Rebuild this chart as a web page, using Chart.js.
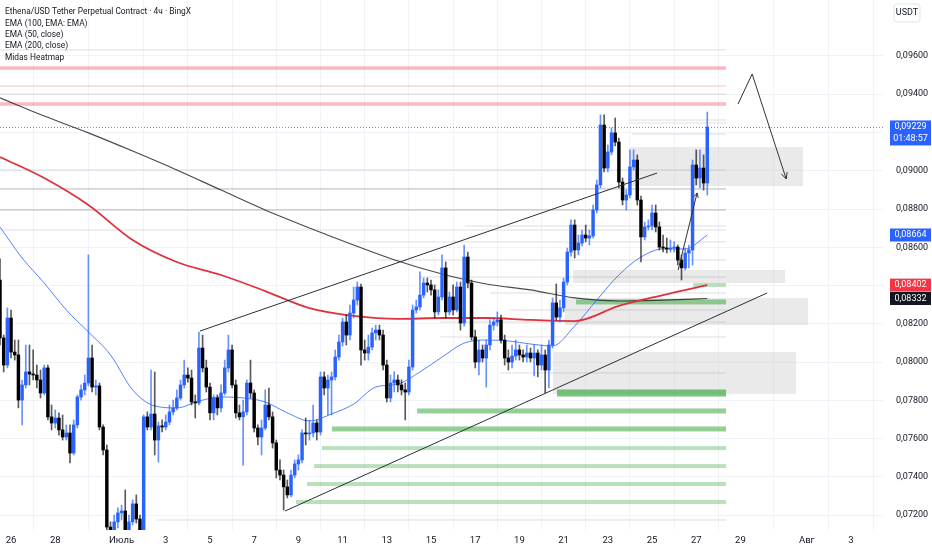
<!DOCTYPE html>
<html lang="ru">
<head>
<meta charset="UTF-8">
<title>Ethena/USDT 4h</title>
<script src="https://cdn.jsdelivr.net/npm/chart.js"></script>
<style>
  html, body { margin: 0; padding: 0; background: #fff; }
  #wrap { width: 932px; height: 550px; }
</style>
</head>
<body>
<div id="wrap"><canvas id="chart" width="932" height="550"></canvas></div>
<script>
// x axis = days from 26 Jun 00:00, one candle every 4 hours
const firstCandleDay = -0.5;
const firstOpen = 0.08429;

const closes = [
  0.08126, 0.07984, 0.08230, 0.08052, 0.08037, 0.07801, 0.07880, 0.07948, 0.07937, 0.07932,
  0.07906, 0.07838, 0.07969, 0.07713, 0.07681, 0.07707, 0.07645, 0.07608, 0.07629, 0.07524,
  0.07671, 0.07817, 0.07854, 0.07890, 0.08021, 0.07869, 0.07875, 0.07660, 0.07540, 0.07137,
  0.07122, 0.07164, 0.07211, 0.07221, 0.07122, 0.07164, 0.07258, 0.07179, 0.07122, 0.07713,
  0.07660, 0.07728, 0.07592, 0.07666, 0.07660, 0.07686, 0.07739, 0.07760, 0.07812, 0.07880,
  0.07932, 0.07916, 0.07791, 0.07786, 0.08073, 0.07969, 0.07869, 0.07734, 0.07812, 0.07760,
  0.07838, 0.07969, 0.08063, 0.07880, 0.07734, 0.07713, 0.07739, 0.07890, 0.07838, 0.07655,
  0.07608, 0.07655, 0.07775, 0.07713, 0.07577, 0.07435, 0.07409, 0.07347, 0.07305, 0.07409,
  0.07467, 0.07488, 0.07629, 0.07624, 0.07629, 0.07681, 0.07634, 0.07922, 0.07864, 0.07906,
  0.07922, 0.08026, 0.08105, 0.08209, 0.08141, 0.08256, 0.08324, 0.08392, 0.08063, 0.08047,
  0.08078, 0.08152, 0.08167, 0.08141, 0.07984, 0.07812, 0.07890, 0.07906, 0.07880, 0.07854,
  0.07843, 0.07974, 0.08272, 0.08288, 0.08350, 0.08413, 0.08403, 0.08377, 0.08262, 0.08340,
  0.08492, 0.08262, 0.08340, 0.08272, 0.08392, 0.08204, 0.08549, 0.08413, 0.08131, 0.08000,
  0.08063, 0.08021, 0.08089, 0.08193, 0.08209, 0.08220, 0.08115, 0.08021, 0.08000, 0.08031,
  0.08063, 0.08037, 0.08026, 0.08047, 0.08021, 0.08047, 0.07984, 0.08037, 0.07958, 0.08089,
  0.08309, 0.08235, 0.08283, 0.08418, 0.08575, 0.08716, 0.08586, 0.08622, 0.08664, 0.08648,
  0.08659, 0.08795, 0.08926, 0.09239, 0.09014, 0.09098, 0.09198, 0.09150, 0.08941, 0.08847,
  0.08873, 0.09020, 0.09056, 0.08847, 0.08654, 0.08706, 0.08711, 0.08779, 0.08706, 0.08601,
  0.08596, 0.08591, 0.08596, 0.08601, 0.08533, 0.08492, 0.08570, 0.08586, 0.09030, 0.08962,
  0.09014, 0.08936, 0.09229
];

const highs = [
  0.08539, 0.08141, 0.08283, 0.08272, 0.08115, 0.08115, 0.07906, 0.08089, 0.08089, 0.08063,
  0.07984, 0.07958, 0.07984, 0.07984, 0.07775, 0.07749, 0.07734, 0.07723, 0.07671, 0.07671,
  0.07697, 0.07828, 0.07880, 0.07932, 0.08560, 0.08089, 0.07906, 0.07890, 0.07671, 0.07566,
  0.07164, 0.07200, 0.07237, 0.07252, 0.07331, 0.07200, 0.07279, 0.07305, 0.07200, 0.07723,
  0.07739, 0.07958, 0.07948, 0.07686, 0.07697, 0.07723, 0.07775, 0.07801, 0.07854, 0.07906,
  0.08010, 0.07969, 0.07958, 0.07828, 0.08157, 0.08141, 0.08010, 0.07890, 0.07828, 0.07828,
  0.07880, 0.08010, 0.08141, 0.08089, 0.07906, 0.07775, 0.07801, 0.07906, 0.08010, 0.07854,
  0.07671, 0.07697, 0.07854, 0.07864, 0.07739, 0.07592, 0.07488, 0.07435, 0.07383, 0.07435,
  0.07488, 0.07514, 0.07645, 0.07707, 0.07697, 0.07775, 0.07697, 0.07948, 0.07948, 0.07932,
  0.07948, 0.08063, 0.08141, 0.08230, 0.08246, 0.08298, 0.08392, 0.08418, 0.08408, 0.08115,
  0.08141, 0.08178, 0.08193, 0.08193, 0.08167, 0.08010, 0.07932, 0.07948, 0.07932, 0.07906,
  0.07890, 0.08010, 0.08298, 0.08324, 0.08471, 0.08439, 0.08439, 0.08429, 0.08403, 0.08377,
  0.08560, 0.08523, 0.08366, 0.08403, 0.08418, 0.08418, 0.08612, 0.08575, 0.08429, 0.08167,
  0.08115, 0.08089, 0.08115, 0.08220, 0.08230, 0.08262, 0.08246, 0.08141, 0.08063, 0.08089,
  0.08115, 0.08089, 0.08063, 0.08089, 0.08073, 0.08089, 0.08063, 0.08089, 0.08063, 0.08115,
  0.08335, 0.08408, 0.08324, 0.08439, 0.08596, 0.08743, 0.08743, 0.08664, 0.08690, 0.08716,
  0.08690, 0.08821, 0.08952, 0.09292, 0.09292, 0.09135, 0.09224, 0.09276, 0.09171, 0.08962,
  0.08899, 0.09109, 0.09109, 0.09083, 0.08868, 0.08732, 0.08743, 0.08821, 0.08821, 0.08732,
  0.08664, 0.08648, 0.08638, 0.08628, 0.08612, 0.08560, 0.08596, 0.08612, 0.09056, 0.09109,
  0.09109, 0.09083, 0.09307
];

const lows = [
  0.08089, 0.07948, 0.07969, 0.08021, 0.08010, 0.07760, 0.07671, 0.07864, 0.07880, 0.07906,
  0.07864, 0.07812, 0.07828, 0.07697, 0.07645, 0.07655, 0.07618, 0.07592, 0.07592, 0.07472,
  0.07514, 0.07655, 0.07801, 0.07828, 0.07875, 0.07843, 0.07828, 0.07645, 0.07514, 0.07122,
  0.07095, 0.07106, 0.07132, 0.07174, 0.07106, 0.07106, 0.07148, 0.07158, 0.07106, 0.07111,
  0.07645, 0.07645, 0.07514, 0.07477, 0.07634, 0.07645, 0.07671, 0.07723, 0.07749, 0.07801,
  0.07864, 0.07895, 0.07775, 0.07707, 0.07775, 0.07948, 0.07843, 0.07697, 0.07697, 0.07723,
  0.07739, 0.07828, 0.07948, 0.07864, 0.07707, 0.07697, 0.07461, 0.07723, 0.07812, 0.07634,
  0.07566, 0.07514, 0.07645, 0.07697, 0.07550, 0.07394, 0.07383, 0.07226, 0.07289, 0.07294,
  0.07394, 0.07435, 0.07472, 0.07566, 0.07592, 0.07608, 0.07592, 0.07618, 0.07828, 0.07723,
  0.07723, 0.07906, 0.08010, 0.08084, 0.08089, 0.08115, 0.08230, 0.08298, 0.07984, 0.08010,
  0.08010, 0.08063, 0.08115, 0.08115, 0.07958, 0.07791, 0.07791, 0.07843, 0.07843, 0.07828,
  0.07697, 0.07828, 0.07958, 0.08256, 0.08272, 0.08335, 0.08366, 0.08350, 0.08230, 0.08246,
  0.08324, 0.08230, 0.08246, 0.08246, 0.08262, 0.08167, 0.08188, 0.08387, 0.08115, 0.07969,
  0.07932, 0.08000, 0.07869, 0.08063, 0.08167, 0.08188, 0.08099, 0.07984, 0.07958, 0.07969,
  0.08010, 0.08010, 0.08000, 0.08000, 0.08000, 0.07927, 0.07922, 0.07958, 0.07838, 0.07864,
  0.08073, 0.08220, 0.08209, 0.08262, 0.08403, 0.08554, 0.08544, 0.08560, 0.08607, 0.08628,
  0.08612, 0.08648, 0.08779, 0.08910, 0.08994, 0.08994, 0.09083, 0.09130, 0.08910, 0.08821,
  0.08795, 0.08858, 0.09004, 0.08821, 0.08523, 0.08638, 0.08690, 0.08690, 0.08680, 0.08586,
  0.08575, 0.08570, 0.08575, 0.08575, 0.08507, 0.08429, 0.08481, 0.08492, 0.08507, 0.08926,
  0.08910, 0.08899, 0.08873
];

// moving averages
const emaSlowDays = [-0.5, 1.5, 3.5, 5.5, 7.5, 9.5, 11.5, 13.5, 15.5, 17.5, 19.5, 21.5, 23.5, 25.5, 27.5, 29.5, 31.5];
const ema200 = [0.09381, 0.09286, 0.09198, 0.09103, 0.09004, 0.08899, 0.08795, 0.08701, 0.08612, 0.08528,
                0.08460, 0.08408, 0.08377, 0.08335, 0.08319, 0.08324, 0.08332];
const ema100 = [0.09072, 0.08962, 0.08821, 0.08638, 0.08523, 0.08455, 0.08371, 0.08282, 0.08241, 0.08225,
                0.08230, 0.08230, 0.08220, 0.08214, 0.08293, 0.08350, 0.08402];
const emaFastDays = [-0.5, 0.5, 1.5, 2.5, 3.5, 4.5, 5.5, 6.5, 7.5, 8.5, 9.5, 10.5, 11.5, 12.5, 13.5, 14.5, 15.5,
                     16.5, 17.5, 18.5, 19.5, 20.5, 21.5, 22.5, 23.5, 24.5, 25.5, 26.5, 27.5, 28.5, 29.5, 30.5, 31.5];
const ema50 = [0.08706, 0.08544, 0.08413, 0.08272, 0.08157, 0.08037, 0.07854, 0.07770, 0.07760, 0.07796,
               0.07817, 0.07812, 0.07791, 0.07734, 0.07692, 0.07728, 0.07780, 0.07869, 0.07885, 0.07948,
               0.08026, 0.08099, 0.08115, 0.08110, 0.08094, 0.08084, 0.08188, 0.08324, 0.08455, 0.08549,
               0.08591, 0.08591, 0.08664];

// drawings: [day, price]
const channelTop = [[8.55, 0.08162], [29.23, 0.08988]];
const channelBottom = [[12.40, 0.07221], [34.21, 0.08361]];
const forecastPath = [[32.89, 0.09349], [33.53, 0.09506], [35.07, 0.08957]];
const swingPath = [[30.18, 0.08481], [31.04, 0.08884]];

// grey zones: [fromDay, toDay, topPrice, bottomPrice]
const zones = [
  [28.01, 35.83, 0.09124, 0.08920],
  [25.43, 35.02, 0.08481, 0.08413],
  [25.07, 36.06, 0.08335, 0.08193],
  [24.52, 35.52, 0.08052, 0.07833]
];

// heatmap levels: [price, fromDay], all end at heatEndDay
const heatEndDay = 32.35;
const redStrong = [0.09537, 0.09349];
const redWeak = [0.09443];
const greenStrong = [[0.07838, 24.70]];
const greenMid = [[0.08314, 25.56], [0.07744, 18.37], [0.07650, 14.52]];
const greenWeak = [[0.08403, 30.86], [0.07550, 14.07], [0.07456, 13.71], [0.07362, 13.39], [0.07268, 12.89]];
const greyStrong = [[0.08795, -0.5], [0.08905, -0.5]];
const greyWeak = [
  [0.09632, -0.5], [0.09401, -0.5], [0.09004, -0.5], [0.08690, -0.5],
  [0.09265, 28.0], [0.09250, 28.0], [0.09192, 28.1], [0.08711, 20.54],
  [0.08628, 15.65], [0.08533, 16.56], [0.08444, 18.5], [0.08361, 21.67],
  [0.08272, 22.58], [0.08209, 19.41], [0.08131, 19.41], [0.07943, 22.12], [0.07174, 6.6]
];

const xTickDays = [0, 2, 5, 7, 9, 11, 13, 15, 17, 19, 21, 23, 25, 27, 29, 31, 33, 36, 38];
const xTickLabels = ['26', '28', 'Июль', '3', '5', '7', '9', '11', '13', '15', '17', '19', '21', '23', '25', '27', '29', 'Авг', '3'];
const yTicks = [0.072, 0.074, 0.076, 0.078, 0.080, 0.082, 0.084, 0.086, 0.088, 0.090, 0.092, 0.094, 0.096];

const lastPrice = 0.09229;
const countdown = '01:48:57';
const legendLines = [
  'Ethena/USD Tether Perpetual Contract · 4ч · BingX',
  'EMA (100, EMA: EMA)',
  'EMA (50, close)',
  'EMA (200, close)',
  'Midas Heatmap'
];

const UP = '#2962ff';
const DOWN = '#000000';
const FONT = "Roboto, 'Noto Sans', sans-serif";

const candleDays = closes.map((c, i) => firstCandleDay + i / 6);
const opens = closes.map((c, i) => i === 0 ? firstOpen : closes[i - 1]);
const isUp = closes.map((c, i) => c >= opens[i]);

const toPoints = (days, vals) => days.map((d, i) => ({x: d, y: vals[i]}));
const pairPoints = arr => arr.map(p => ({x: p[0], y: p[1]}));
const fmt = v => v.toFixed(5).replace('.', ',');

function lineSet(data, color, width, order, smooth) {
  return {
    type: 'line', data: data, borderColor: color, borderWidth: width,
    pointRadius: 0, fill: false, order: order,
    cubicInterpolationMode: smooth ? 'monotone' : 'default', tension: 0
  };
}

const overlay = {
  id: 'overlay',
  beforeDatasetsDraw(chart) {
    const {ctx, chartArea: a, scales: {x, y}} = chart;
    ctx.save();
    ctx.beginPath();
    ctx.rect(a.left, a.top, a.width, a.height);
    ctx.clip();

    ctx.fillStyle = 'rgba(190,190,190,0.32)';
    zones.forEach(z => {
      const x0 = x.getPixelForValue(z[0]), x1 = x.getPixelForValue(z[1]);
      const y0 = y.getPixelForValue(z[2]), y1 = y.getPixelForValue(z[3]);
      ctx.fillRect(x0, y0, x1 - x0, y1 - y0);
    });

    const xEnd = x.getPixelForValue(heatEndDay);
    const level = (price, fromDay, color, width) => {
      const yy = y.getPixelForValue(price);
      const x0 = x.getPixelForValue(fromDay);
      ctx.fillStyle = color;
      ctx.fillRect(x0, yy - width / 2, xEnd - x0, width);
    };
    greyWeak.forEach(l => level(l[0], l[1], 'rgba(120,120,120,0.16)', 1.5));
    greyStrong.forEach(l => level(l[0], l[1], 'rgba(110,110,110,0.32)', 1.5));
    redWeak.forEach(p => level(p, firstCandleDay, 'rgba(242,54,69,0.22)', 1.5));
    redStrong.forEach(p => level(p, firstCandleDay, 'rgba(242,54,69,0.35)', 3.5));
    greenWeak.forEach(l => level(l[0], l[1], 'rgba(76,175,80,0.38)', 4));
    greenMid.forEach(l => level(l[0], l[1], 'rgba(76,175,80,0.6)', 5));
    greenStrong.forEach(l => level(l[0], l[1], 'rgba(76,175,80,0.75)', 7));

    // last price dotted line
    const yp = y.getPixelForValue(lastPrice);
    ctx.strokeStyle = 'rgba(41,98,255,0.75)';
    ctx.lineWidth = 1;
    ctx.setLineDash([1, 2]);
    ctx.beginPath();
    ctx.moveTo(a.left, yp + 0.5);
    ctx.lineTo(a.right, yp + 0.5);
    ctx.stroke();
    ctx.restore();
  },
  afterDatasetsDraw(chart) {
    const {ctx, scales: {x, y}} = chart;
    const head = (from, to, len) => {
      const x0 = x.getPixelForValue(from[0]), y0 = y.getPixelForValue(from[1]);
      const x1 = x.getPixelForValue(to[0]), y1 = y.getPixelForValue(to[1]);
      const ang = Math.atan2(y1 - y0, x1 - x0);
      ctx.beginPath();
      ctx.moveTo(x1 - len * Math.cos(ang - 0.45), y1 - len * Math.sin(ang - 0.45));
      ctx.lineTo(x1, y1);
      ctx.lineTo(x1 - len * Math.cos(ang + 0.45), y1 - len * Math.sin(ang + 0.45));
      ctx.stroke();
    };
    ctx.save();
    ctx.strokeStyle = '#333';
    ctx.lineWidth = 1;
    head(forecastPath[1], forecastPath[2], 7);
    head(swingPath[0], swingPath[1], 5);
    ctx.restore();
  },
  afterDraw(chart) {
    const {ctx, chartArea: a, scales: {y}} = chart;
    ctx.save();
    ctx.fillStyle = '#131722';
    ctx.textBaseline = 'middle';
    ctx.textAlign = 'left';

    // legend, a bit condensed like the original
    ctx.save();
    ctx.font = '9.5px ' + FONT;
    ctx.scale(0.88, 1);
    legendLines.forEach((t, i) => ctx.fillText(t, 5 / 0.88, 12 + i * 11.3));
    ctx.restore();

    // price tags on the right axis
    ctx.font = '9px ' + FONT;
    const tagX = a.right + 7, tagW = 41;
    const tag = (price, bg, lines) => {
      const yy = y.getPixelForValue(price);
      const h = lines.length * 12 + 1;
      ctx.fillStyle = bg;
      ctx.fillRect(tagX, yy - 6.5, tagW, h);
      ctx.fillStyle = '#fff';
      ctx.textAlign = 'center';
      lines.forEach((t, i) => ctx.fillText(t, tagX + tagW / 2, yy + i * 12));
    };
    tag(ema50[ema50.length - 1], UP, [fmt(ema50[ema50.length - 1])]);
    tag(ema100[ema100.length - 1], '#f23645', [fmt(ema100[ema100.length - 1])]);
    tag(ema200[ema200.length - 1], '#131722', [fmt(ema200[ema200.length - 1])]);
    tag(lastPrice, UP, [fmt(lastPrice), countdown]);

    // currency box
    ctx.strokeStyle = '#e0e3eb';
    ctx.fillStyle = '#fff';
    ctx.beginPath();
    ctx.roundRect(a.right + 11, 4, 26, 18, 3);
    ctx.fill();
    ctx.stroke();
    ctx.fillStyle = '#131722';
    ctx.textAlign = 'center';
    ctx.fillText('USDT', a.right + 24, 13);
    ctx.restore();
  }
};

new Chart(document.getElementById('chart'), {
  type: 'line',
  data: {
    datasets: [
      lineSet(pairPoints(channelTop), '#2a2e39', 1, 0, false),
      lineSet(pairPoints(channelBottom), '#2a2e39', 1, 0, false),
      lineSet(pairPoints(forecastPath), '#333', 1, 0, false),
      lineSet(pairPoints(swingPath), '#333', 1, 0, false),
      {
        type: 'bar',
        data: candleDays.map((d, i) => ({x: d, y: [opens[i], closes[i]]})),
        backgroundColor: isUp.map(u => u ? UP : DOWN),
        barThickness: 2.8, minBarLength: 1, grouped: false, order: 1
      },
      {
        type: 'bar',
        data: candleDays.map((d, i) => ({x: d, y: [lows[i], highs[i]]})),
        backgroundColor: isUp.map(u => u ? 'rgba(41,98,255,0.7)' : 'rgba(0,0,0,0.65)'),
        barThickness: 1, grouped: false, order: 2
      },
      lineSet(toPoints(emaFastDays, ema50), 'rgba(41,98,255,0.8)', 1, 3, true),
      lineSet(toPoints(emaSlowDays, ema100), '#e0313f', 1.8, 3, true),
      lineSet(toPoints(emaSlowDays, ema200), 'rgba(30,30,30,0.8)', 1.2, 3, true)
    ]
  },
  options: {
    responsive: false,
    devicePixelRatio: 1,
    animation: false,
    layout: {padding: 0},
    plugins: {legend: {display: false}, tooltip: {enabled: false}},
    scales: {
      x: {
        type: 'linear', min: -0.5, max: 39.45, offset: false,
        grid: {color: '#f0f3fa', drawTicks: false},
        border: {display: false},
        ticks: {
          autoSkip: false, maxRotation: 0, padding: 5, color: '#131722',
          font: {size: 9.5, family: FONT},
          callback: v => xTickLabels[xTickDays.indexOf(v)]
        },
        afterBuildTicks: s => { s.ticks = xTickDays.map(v => ({value: v})); },
        afterFit: s => { s.height = 20; s.paddingLeft = 0; s.paddingRight = 0; }
      },
      y: {
        type: 'linear', position: 'right', min: 0.071216, max: 0.098928,
        beginAtZero: false,
        grid: {color: '#f0f3fa', drawTicks: false},
        border: {display: false},
        ticks: {padding: 13, color: '#131722', font: {size: 9, family: FONT}, callback: v => fmt(v)},
        afterBuildTicks: s => { s.ticks = yTicks.map(v => ({value: v})); },
        afterFit: s => { s.width = 49; s.paddingTop = 0; s.paddingBottom = 0; }
      }
    }
  },
  plugins: [overlay]
});
</script>
</body>
</html>
